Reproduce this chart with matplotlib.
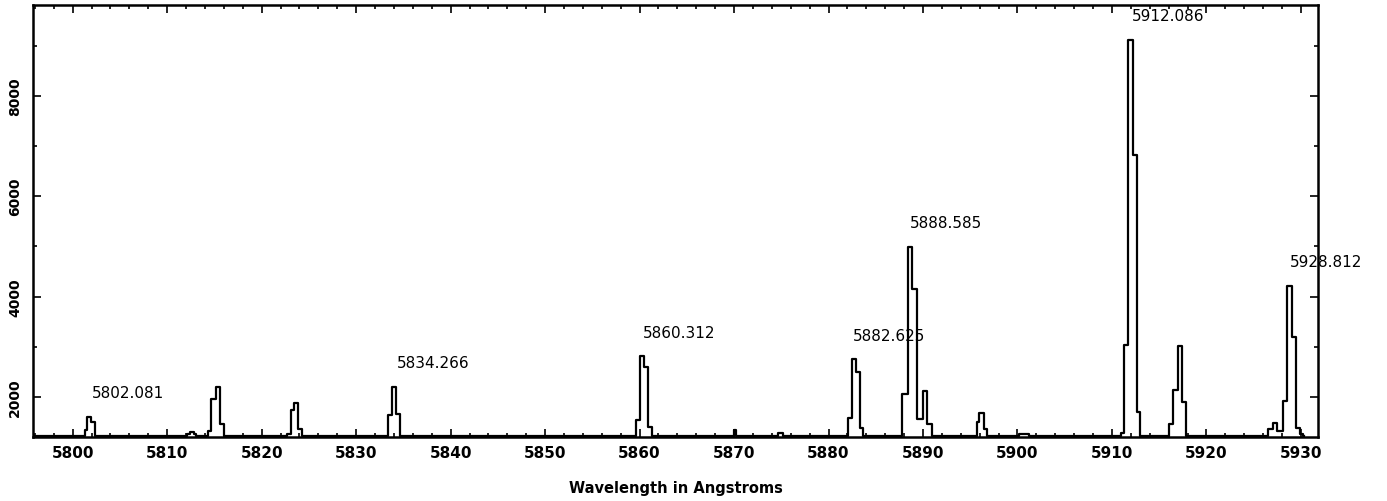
#!/usr/bin/env python3
"""
Arc-lamp spectrum, 5796-5932 A, drawn as a stepped trace with the
fitted line centres written above each identified line.
"""

import matplotlib
matplotlib.use("Agg")
import matplotlib.pyplot as plt
from matplotlib.ticker import MultipleLocator, FixedLocator

BASE = 1220

# step breakpoints: wavelength where each level starts, and the counts level
wavelength = [
    5795.8,
    5801.32, 5801.50, 5801.93, 5802.31,
    5812.10, 5812.40, 5812.80, 5813.10,
    5814.37, 5814.66, 5815.15, 5815.61, 5816.03,
    5822.67, 5823.09, 5823.44, 5823.83, 5824.25,
    5833.33, 5833.83, 5834.23, 5834.69,
    5859.60, 5860.05, 5860.51, 5860.87, 5861.29,
    5870.00, 5870.20,
    5874.70, 5875.20,
    5882.01, 5882.45, 5882.89, 5883.33, 5883.68,
    5887.78, 5888.44, 5888.87, 5889.33, 5890.03, 5890.46, 5890.92,
    5895.68, 5895.96, 5896.46, 5896.81,
    5900.20, 5901.20,
    5911.00, 5911.31, 5911.73, 5912.20, 5912.62, 5912.96,
    5916.06, 5916.49, 5916.95, 5917.38, 5917.83,
    5926.54, 5927.00, 5927.43, 5928.06, 5928.48, 5929.01, 5929.47,
    5929.89, 5930.20, 5930.30,
]
counts = [
    BASE,
    1330, 1607, 1493, BASE,
    1260, 1300, 1260, BASE,
    1327, 1950, 2190, 1450, BASE,
    1260, 1737, 1885, 1360, BASE,
    1630, 2193, 1660, BASE,
    1540, 2807, 2593, 1393, BASE,
    1330, BASE,
    1280, BASE,
    1575, 2745, 2493, 1373, BASE,
    2047, 4993, 4147, 1565, 2107, 1460, BASE,
    1493, 1673, 1360, BASE,
    1260, BASE,
    1270, 3027, 9107, 6827, 1693, BASE,
    1460, 2127, 3007, 1893, BASE,
    1360, 1480, 1320, 1910, 4207, 3193, 1380,
    1260, BASE, BASE,
]

# fitted line centres (A)
line_centres = [5802.081, 5834.266, 5860.312, 5882.625,
                5888.585, 5912.086, 5928.812]

x_ticks = list(range(5800, 5931, 10))
y_ticks = [2000, 4000, 6000, 8000]


def main() -> None:
    fig = plt.figure(figsize=(13.87, 5.02), dpi=100)
    ax = fig.add_axes([0.0238, 0.1275, 0.9264, 0.8606])

    ax.plot(wavelength, counts, drawstyle="steps-post", color="black", lw=1.6)

    ax.set_xlim(5795.8, 5931.8)
    ax.set_ylim(1200, 9810)

    # label each line at its centre, just above the local maximum
    for wl in line_centres:
        peak = max(c for w, c in zip(wavelength, counts) if abs(w - wl) < 1.2)
        ax.text(wl, peak + 395, f"{wl:.3f}", ha="left", va="baseline",
                fontsize=11, color="black")

    ax.xaxis.set_major_locator(FixedLocator(x_ticks))
    ax.xaxis.set_minor_locator(MultipleLocator(2))
    ax.yaxis.set_major_locator(FixedLocator(y_ticks))
    ax.yaxis.set_minor_locator(MultipleLocator(1000))
    ax.set_xticklabels([str(t) for t in x_ticks], fontsize=11,
                       fontweight="bold")
    ax.set_yticklabels([str(t) for t in y_ticks], fontsize=10,
                       fontweight="bold", rotation=90, va="center")

    ax.tick_params(which="both", direction="in", top=True, right=True,
                   width=1.2, color="black")
    ax.tick_params(which="major", length=6)
    ax.tick_params(which="minor", length=3)
    ax.tick_params(axis="x", which="major", pad=6)
    ax.tick_params(axis="y", which="major", pad=8)

    for side in ax.spines.values():
        side.set_linewidth(1.8)

    ax.set_xlabel("Wavelength in Angstroms", fontsize=10.5,
                  fontweight="bold", labelpad=14)

    fig.savefig("out.png", dpi=100)
    plt.close(fig)


if __name__ == "__main__":
    main()
